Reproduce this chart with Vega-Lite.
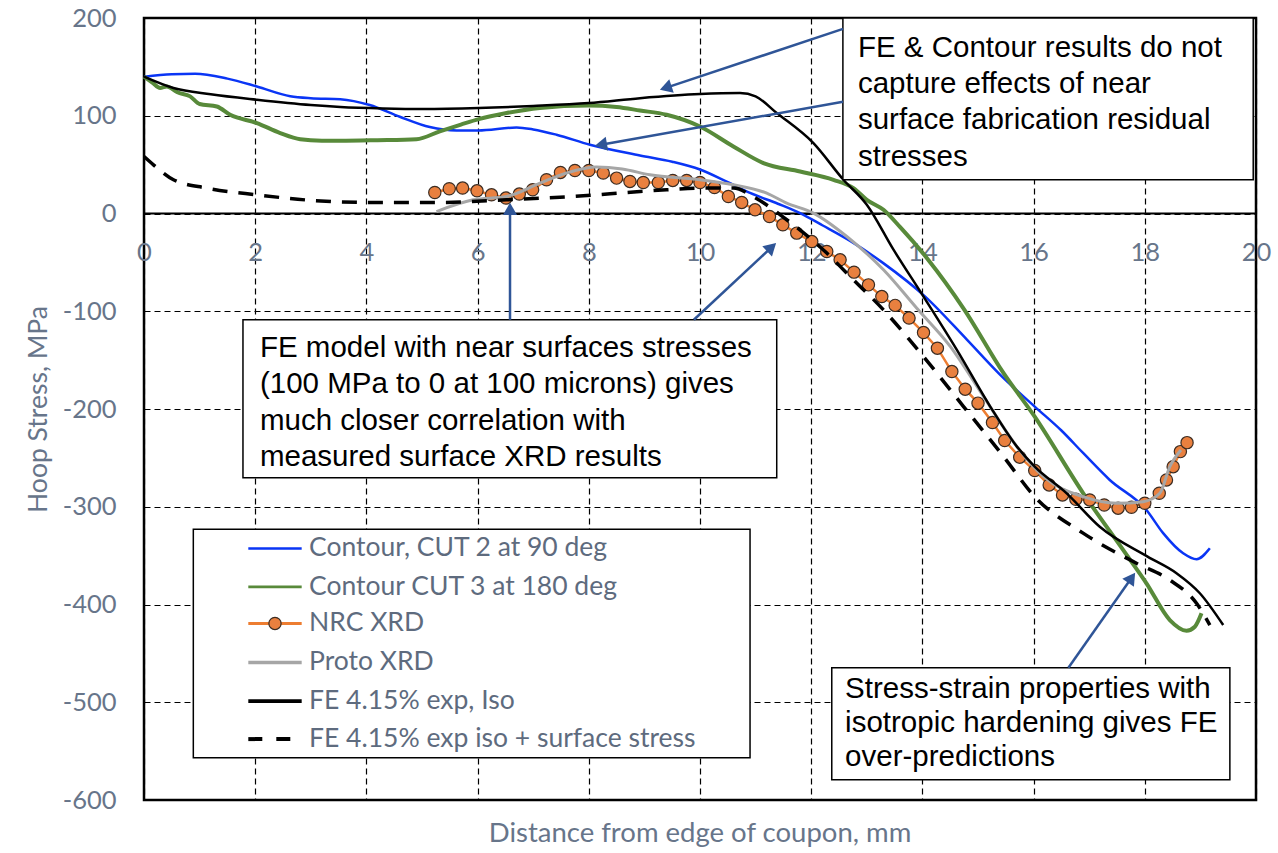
{
  "$schema": "https://vega.github.io/schema/vega-lite/v6.json",
  "width": 1112,
  "height": 782,
  "autosize": "none",
  "padding": {"left": 144, "top": 18, "right": 22, "bottom": 53},
  "background": "white",
  "config": {"view": {"stroke": "black", "strokeWidth": 2.5}, "font": "Lato"},
  "title": {
    "text": "Distance from edge of coupon, mm",
    "orient": "bottom",
    "anchor": "middle",
    "font": "Lato",
    "fontSize": 27.5,
    "fontWeight": "normal",
    "color": "#67758a",
    "offset": 6
  },
  "datasets": {
    "curves": [
      {"s": "c2", "x": 0, "y": 140}, {"s": "c2", "x": 0.5, "y": 142.5}, {"s": "c2", "x": 0.92, "y": 143}, {"s": "c2", "x": 1.5, "y": 138},
      {"s": "c2", "x": 2.03, "y": 130}, {"s": "c2", "x": 2.63, "y": 120}, {"s": "c2", "x": 3.0, "y": 118}, {"s": "c2", "x": 3.53, "y": 117},
      {"s": "c2", "x": 4.06, "y": 111}, {"s": "c2", "x": 4.6, "y": 99}, {"s": "c2", "x": 5.14, "y": 88.4}, {"s": "c2", "x": 5.62, "y": 85},
      {"s": "c2", "x": 6.01, "y": 85}, {"s": "c2", "x": 6.7, "y": 88}, {"s": "c2", "x": 7.0, "y": 86}, {"s": "c2", "x": 7.42, "y": 80.6},
      {"s": "c2", "x": 8.02, "y": 70.3}, {"s": "c2", "x": 8.92, "y": 59.4}, {"s": "c2", "x": 9.5, "y": 53}, {"s": "c2", "x": 10.0, "y": 45},
      {"s": "c2", "x": 10.5, "y": 32}, {"s": "c2", "x": 10.9, "y": 21}, {"s": "c2", "x": 11.4, "y": 10}, {"s": "c2", "x": 11.8, "y": 0.4},
      {"s": "c2", "x": 12.2, "y": -12}, {"s": "c2", "x": 12.7, "y": -28}, {"s": "c2", "x": 13.29, "y": -50.5}, {"s": "c2", "x": 14.05, "y": -85},
      {"s": "c2", "x": 14.8, "y": -129}, {"s": "c2", "x": 15.4, "y": -165}, {"s": "c2", "x": 16.02, "y": -197.5}, {"s": "c2", "x": 16.5, "y": -222},
      {"s": "c2", "x": 16.89, "y": -245}, {"s": "c2", "x": 17.37, "y": -272.6}, {"s": "c2", "x": 18.03, "y": -303.3}, {"s": "c2", "x": 18.33, "y": -327},
      {"s": "c2", "x": 18.69, "y": -347.6}, {"s": "c2", "x": 18.93, "y": -353.7}, {"s": "c2", "x": 19.17, "y": -342.5},

      {"s": "c3", "x": 0, "y": 140}, {"s": "c3", "x": 0.15, "y": 134}, {"s": "c3", "x": 0.29, "y": 128.4}, {"s": "c3", "x": 0.41, "y": 130},
      {"s": "c3", "x": 0.6, "y": 124}, {"s": "c3", "x": 0.83, "y": 119.8}, {"s": "c3", "x": 1.0, "y": 112}, {"s": "c3", "x": 1.31, "y": 109.5},
      {"s": "c3", "x": 1.55, "y": 101}, {"s": "c3", "x": 2.03, "y": 92.5}, {"s": "c3", "x": 2.45, "y": 82.3}, {"s": "c3", "x": 2.81, "y": 76},
      {"s": "c3", "x": 3.2, "y": 74.5}, {"s": "c3", "x": 3.53, "y": 74.4}, {"s": "c3", "x": 4.2, "y": 75}, {"s": "c3", "x": 4.9, "y": 76},
      {"s": "c3", "x": 5.32, "y": 84}, {"s": "c3", "x": 5.7, "y": 91}, {"s": "c3", "x": 6.02, "y": 96.6}, {"s": "c3", "x": 6.52, "y": 102.8},
      {"s": "c3", "x": 7.12, "y": 108}, {"s": "c3", "x": 7.99, "y": 110.5}, {"s": "c3", "x": 8.5, "y": 109}, {"s": "c3", "x": 8.92, "y": 105.4},
      {"s": "c3", "x": 9.4, "y": 101}, {"s": "c3", "x": 10.0, "y": 89}, {"s": "c3", "x": 10.6, "y": 68.6}, {"s": "c3", "x": 11.14, "y": 51.6},
      {"s": "c3", "x": 11.8, "y": 43}, {"s": "c3", "x": 12.4, "y": 34.5}, {"s": "c3", "x": 12.76, "y": 26}, {"s": "c3", "x": 13.0, "y": 14},
      {"s": "c3", "x": 13.3, "y": 3.8}, {"s": "c3", "x": 13.6, "y": -14}, {"s": "c3", "x": 14.1, "y": -47}, {"s": "c3", "x": 14.75, "y": -98},
      {"s": "c3", "x": 15.46, "y": -163.4}, {"s": "c3", "x": 16.02, "y": -207.8}, {"s": "c3", "x": 16.89, "y": -286}, {"s": "c3", "x": 17.61, "y": -344.2},
      {"s": "c3", "x": 18.03, "y": -378.3}, {"s": "c3", "x": 18.45, "y": -415.9}, {"s": "c3", "x": 18.75, "y": -426.8}, {"s": "c3", "x": 18.9, "y": -422.7},
      {"s": "c3", "x": 19.02, "y": -409},

      {"s": "nrc", "x": 5.23, "y": 21.5}, {"s": "nrc", "x": 5.49, "y": 25.3}, {"s": "nrc", "x": 5.73, "y": 26}, {"s": "nrc", "x": 5.99, "y": 23.2},
      {"s": "nrc", "x": 6.25, "y": 19.1}, {"s": "nrc", "x": 6.51, "y": 15.8}, {"s": "nrc", "x": 6.75, "y": 19.9}, {"s": "nrc", "x": 6.99, "y": 24.3},
      {"s": "nrc", "x": 7.24, "y": 34.5}, {"s": "nrc", "x": 7.49, "y": 42}, {"s": "nrc", "x": 7.75, "y": 44}, {"s": "nrc", "x": 8.0, "y": 44},
      {"s": "nrc", "x": 8.26, "y": 41.4}, {"s": "nrc", "x": 8.5, "y": 36.2}, {"s": "nrc", "x": 8.74, "y": 32.8}, {"s": "nrc", "x": 8.98, "y": 31.7},
      {"s": "nrc", "x": 9.25, "y": 31.7}, {"s": "nrc", "x": 9.51, "y": 33.8}, {"s": "nrc", "x": 9.76, "y": 33.8}, {"s": "nrc", "x": 10.0, "y": 31.7},
      {"s": "nrc", "x": 10.26, "y": 26.6}, {"s": "nrc", "x": 10.51, "y": 17.4}, {"s": "nrc", "x": 10.75, "y": 11.3}, {"s": "nrc", "x": 10.99, "y": 3.8},
      {"s": "nrc", "x": 11.25, "y": -3.1}, {"s": "nrc", "x": 11.49, "y": -11.6}, {"s": "nrc", "x": 11.74, "y": -20.1}, {"s": "nrc", "x": 12.01, "y": -28.7},
      {"s": "nrc", "x": 12.28, "y": -38.9}, {"s": "nrc", "x": 12.52, "y": -47.4}, {"s": "nrc", "x": 12.77, "y": -60}, {"s": "nrc", "x": 13.03, "y": -73},
      {"s": "nrc", "x": 13.27, "y": -85}, {"s": "nrc", "x": 13.51, "y": -94}, {"s": "nrc", "x": 13.76, "y": -107}, {"s": "nrc", "x": 14.02, "y": -121.8},
      {"s": "nrc", "x": 14.27, "y": -137.8}, {"s": "nrc", "x": 14.53, "y": -161.7}, {"s": "nrc", "x": 14.77, "y": -179.7}, {"s": "nrc", "x": 15.0, "y": -194},
      {"s": "nrc", "x": 15.26, "y": -213.9}, {"s": "nrc", "x": 15.48, "y": -232.3}, {"s": "nrc", "x": 15.75, "y": -249.3}, {"s": "nrc", "x": 16.02, "y": -263},
      {"s": "nrc", "x": 16.28, "y": -277.7}, {"s": "nrc", "x": 16.52, "y": -287.9}, {"s": "nrc", "x": 16.76, "y": -292.3}, {"s": "nrc", "x": 17.01, "y": -293},
      {"s": "nrc", "x": 17.27, "y": -298.2}, {"s": "nrc", "x": 17.52, "y": -301.5}, {"s": "nrc", "x": 17.76, "y": -300.5}, {"s": "nrc", "x": 18.0, "y": -296.4},
      {"s": "nrc", "x": 18.26, "y": -286.2}, {"s": "nrc", "x": 18.39, "y": -272.6}, {"s": "nrc", "x": 18.51, "y": -259}, {"s": "nrc", "x": 18.64, "y": -243.6},
      {"s": "nrc", "x": 18.76, "y": -234.4},

      {"s": "proto", "x": 5.26, "y": 2}, {"s": "proto", "x": 5.92, "y": 14}, {"s": "proto", "x": 6.52, "y": 17.4}, {"s": "proto", "x": 7.12, "y": 31},
      {"s": "proto", "x": 7.6, "y": 41.4}, {"s": "proto", "x": 8.14, "y": 47.5}, {"s": "proto", "x": 8.6, "y": 45.5}, {"s": "proto", "x": 9.1, "y": 39.6},
      {"s": "proto", "x": 10.0, "y": 34.5}, {"s": "proto", "x": 10.6, "y": 29.4}, {"s": "proto", "x": 11.2, "y": 20.9}, {"s": "proto", "x": 11.56, "y": 10.6},
      {"s": "proto", "x": 12.04, "y": 0.4}, {"s": "proto", "x": 12.64, "y": -23.5}, {"s": "proto", "x": 13.3, "y": -57.6}, {"s": "proto", "x": 13.9, "y": -97},
      {"s": "proto", "x": 14.5, "y": -136}, {"s": "proto", "x": 15.1, "y": -187.3}, {"s": "proto", "x": 15.7, "y": -238.5}, {"s": "proto", "x": 16.18, "y": -269.2},
      {"s": "proto", "x": 16.89, "y": -289.7}, {"s": "proto", "x": 17.49, "y": -296.4}, {"s": "proto", "x": 17.97, "y": -294.8}, {"s": "proto", "x": 18.27, "y": -286.2},
      {"s": "proto", "x": 18.45, "y": -259}, {"s": "proto", "x": 18.65, "y": -241.9},

      {"s": "fe", "x": 0, "y": 140}, {"s": "fe", "x": 0.53, "y": 128.4}, {"s": "fe", "x": 1.2, "y": 122}, {"s": "fe", "x": 2.03, "y": 116.4},
      {"s": "fe", "x": 3.0, "y": 111}, {"s": "fe", "x": 3.53, "y": 109}, {"s": "fe", "x": 4.3, "y": 107.5}, {"s": "fe", "x": 5.02, "y": 106.9},
      {"s": "fe", "x": 6.02, "y": 107.9}, {"s": "fe", "x": 7.0, "y": 110}, {"s": "fe", "x": 8.0, "y": 113}, {"s": "fe", "x": 8.92, "y": 118},
      {"s": "fe", "x": 10.0, "y": 122.2}, {"s": "fe", "x": 10.72, "y": 123.2}, {"s": "fe", "x": 11.0, "y": 119.8}, {"s": "fe", "x": 11.38, "y": 102.8},
      {"s": "fe", "x": 12.04, "y": 72}, {"s": "fe", "x": 12.58, "y": 34.5}, {"s": "fe", "x": 13.0, "y": 9}, {"s": "fe", "x": 13.48, "y": -37},
      {"s": "fe", "x": 14.02, "y": -85}, {"s": "fe", "x": 14.62, "y": -139.5}, {"s": "fe", "x": 15.22, "y": -197.5}, {"s": "fe", "x": 15.7, "y": -238.5},
      {"s": "fe", "x": 16.02, "y": -259}, {"s": "fe", "x": 16.59, "y": -286}, {"s": "fe", "x": 17.19, "y": -320.4}, {"s": "fe", "x": 18.05, "y": -351},
      {"s": "fe", "x": 18.57, "y": -368}, {"s": "fe", "x": 18.99, "y": -388.5}, {"s": "fe", "x": 19.41, "y": -421},

      {"s": "fes", "x": 0, "y": 58.3}, {"s": "fes", "x": 0.17, "y": 49.8}, {"s": "fes", "x": 0.53, "y": 34.5}, {"s": "fes", "x": 1.13, "y": 26},
      {"s": "fes", "x": 2.03, "y": 19.1}, {"s": "fes", "x": 3.05, "y": 13.3}, {"s": "fes", "x": 4.12, "y": 11.3}, {"s": "fes", "x": 5.32, "y": 11.3},
      {"s": "fes", "x": 6.52, "y": 14}, {"s": "fes", "x": 7.72, "y": 17.4}, {"s": "fes", "x": 8.92, "y": 22.5}, {"s": "fes", "x": 9.4, "y": 24.3},
      {"s": "fes", "x": 10.0, "y": 26}, {"s": "fes", "x": 10.6, "y": 26}, {"s": "fes", "x": 11.0, "y": 15.8}, {"s": "fes", "x": 11.56, "y": -6.4},
      {"s": "fes", "x": 12.28, "y": -40.5}, {"s": "fes", "x": 12.7, "y": -64.5}, {"s": "fes", "x": 13.3, "y": -98.6}, {"s": "fes", "x": 14.02, "y": -146.4},
      {"s": "fes", "x": 14.74, "y": -197.5}, {"s": "fes", "x": 15.46, "y": -248.7}, {"s": "fes", "x": 16.02, "y": -289.7}, {"s": "fes", "x": 16.89, "y": -327},
      {"s": "fes", "x": 17.85, "y": -357.8}, {"s": "fes", "x": 18.45, "y": -375}, {"s": "fes", "x": 18.93, "y": -398.8}, {"s": "fes", "x": 19.17, "y": -421}
    ],
    "boxes": [
      {"x": 12.57, "xe": 19.95, "y": 200, "ye": 34.5},
      {"x": 1.78, "xe": 11.38, "y": -108.7, "ye": -270.4},
      {"x": 12.37, "xe": 19.53, "y": -464.8, "ye": -579.3},
      {"x": 0.887, "xe": 10.9, "y": -322.9, "ye": -556.8}
    ],
    "notes": [
      {"x": 12.84, "y": 160.3, "text": "FE & Contour results do not"},
      {"x": 12.84, "y": 123.2, "text": "capture effects of near"},
      {"x": 12.84, "y": 86.1, "text": "surface fabrication residual"},
      {"x": 12.84, "y": 49.1, "text": "stresses"},
      {"x": 2.086, "y": -146.6, "text": "FE model with near surfaces stresses"},
      {"x": 2.086, "y": -183.9, "text": "(100 MPa to 0 at 100 microns) gives"},
      {"x": 2.086, "y": -221.2, "text": "much closer correlation with"},
      {"x": 2.086, "y": -258.6, "text": "measured surface XRD results"},
      {"x": 12.61, "y": -495.4, "text": "Stress-strain properties with"},
      {"x": 12.61, "y": -530.2, "text": "isotropic hardening gives FE"},
      {"x": 12.61, "y": -565, "text": "over-predictions"}
    ],
    "legend": [
      {"s": "c2", "label": "Contour, CUT 2 at 90 deg", "y": -342.7},
      {"s": "c3", "label": "Contour CUT 3 at 180 deg", "y": -381.9},
      {"s": "nrc", "label": "NRC XRD", "y": -419.4},
      {"s": "proto", "label": "Proto XRD", "y": -459.3},
      {"s": "fe", "label": "FE 4.15% exp, Iso", "y": -498.8},
      {"s": "fes", "label": "FE 4.15% exp iso + surface stress", "y": -537.7}
    ],
    "arrows": [
      {"id": "a1", "x": 12.572, "y": 188.9, "xe": 9.383, "ye": 128.5},
      {"id": "a2", "x": 12.572, "y": 114.3, "xe": 8.218, "ye": 70.3},
      {"id": "a3", "x": 6.583, "y": -108.7, "xe": 6.583, "ye": 4.8},
      {"id": "a4", "x": 9.89, "y": -108.7, "xe": 11.288, "ye": -34.5},
      {"id": "a5", "x": 16.626, "y": -464.8, "xe": 17.763, "ye": -372.6}
    ]
  },
  "layer": [
    {
      "data": {"values": [{"y": 0}]},
      "mark": {"type": "rule", "color": "black", "strokeWidth": 2.2},
      "encoding": {
        "y": {
          "field": "y", "type": "quantitative",
          "scale": {"domain": [-600, 200], "nice": false, "zero": false},
          "axis": {
            "values": [-600, -500, -400, -300, -200, -100, 0, 100, 200],
            "labelExpr": "replace(datum.label, '\u2212', '-')",
            "grid": true, "gridColor": "black", "gridDash": [6, 4], "gridWidth": 1.2, "gridOpacity": 1,
            "domain": false, "ticks": false,
            "labelFont": "Lato", "labelFontSize": 25.5, "labelColor": "#67758a", "labelPadding": 28, "labelOverlap": false,
            "title": "Hoop Stress, MPa", "titleFont": "Lato", "titleFontSize": 26.5, "titleFontWeight": "normal",
            "titleColor": "#67758a", "titlePadding": 10
          }
        }
      }
    },
    {
      "data": {"name": "curves"},
      "transform": [{"filter": "datum.s === 'c2'"}],
      "mark": {"type": "line", "color": "#0a35f5", "strokeWidth": 2.5, "interpolate": "monotone"},
      "encoding": {
        "x": {
          "field": "x", "type": "quantitative",
          "scale": {"domain": [0, 20], "nice": false, "zero": false},
          "axis": {
            "values": [0, 2, 4, 6, 8, 10, 12, 14, 16, 18, 20],
            "grid": true, "gridColor": "black", "gridDash": [6, 4], "gridWidth": 1.2, "gridOpacity": 1,
            "domain": false, "ticks": false, "offset": -586.5,
            "labelFont": "Lato", "labelFontSize": 25.5, "labelColor": "#67758a", "labelPadding": 27,
            "labelFlush": false, "labelOverlap": false, "title": null
          }
        },
        "y": {"field": "y", "type": "quantitative"}
      }
    },
    {
      "data": {"name": "curves"},
      "transform": [{"filter": "datum.s === 'c3'"}],
      "mark": {"type": "line", "color": "#588a3a", "strokeWidth": 4, "interpolate": "monotone"},
      "encoding": {
        "x": {"field": "x", "type": "quantitative"},
        "y": {"field": "y", "type": "quantitative"}
      }
    },
    {
      "data": {"name": "curves"},
      "transform": [{"filter": "datum.s === 'nrc'"}],
      "mark": {"type": "line", "color": "#ed7d31", "strokeWidth": 2.5},
      "encoding": {
        "x": {"field": "x", "type": "quantitative"},
        "y": {"field": "y", "type": "quantitative"}
      }
    },
    {
      "data": {"name": "curves"},
      "transform": [{"filter": "datum.s === 'nrc'"}],
      "mark": {"type": "point", "shape": "circle", "filled": true, "size": 150, "fill": "#e9803f", "stroke": "#3b2c22", "strokeWidth": 1.2, "opacity": 1},
      "encoding": {
        "x": {"field": "x", "type": "quantitative"},
        "y": {"field": "y", "type": "quantitative"}
      }
    },
    {
      "data": {"name": "curves"},
      "transform": [{"filter": "datum.s === 'proto'"}],
      "mark": {"type": "line", "color": "#a6a6a6", "strokeWidth": 3, "interpolate": "monotone"},
      "encoding": {
        "x": {"field": "x", "type": "quantitative"},
        "y": {"field": "y", "type": "quantitative"}
      }
    },
    {
      "data": {"name": "curves"},
      "transform": [{"filter": "datum.s === 'fe'"}],
      "mark": {"type": "line", "color": "black", "strokeWidth": 2.5, "interpolate": "monotone"},
      "encoding": {
        "x": {"field": "x", "type": "quantitative"},
        "y": {"field": "y", "type": "quantitative"}
      }
    },
    {
      "data": {"name": "curves"},
      "transform": [{"filter": "datum.s === 'fes'"}],
      "mark": {"type": "line", "color": "black", "strokeWidth": 3.5, "strokeDash": [15, 11], "interpolate": "monotone"},
      "encoding": {
        "x": {"field": "x", "type": "quantitative"},
        "y": {"field": "y", "type": "quantitative"}
      }
    },
    {
      "data": {"name": "boxes"},
      "mark": {"type": "rect", "fill": "white", "stroke": "black", "strokeWidth": 1.5},
      "encoding": {
        "x": {"field": "x", "type": "quantitative"},
        "x2": {"field": "xe"},
        "y": {"field": "y", "type": "quantitative"},
        "y2": {"field": "ye"}
      }
    },
    {
      "data": {"name": "notes"},
      "mark": {"type": "text", "font": "Liberation Sans", "fontSize": 29.5, "align": "left", "baseline": "alphabetic", "color": "black"},
      "encoding": {
        "x": {"field": "x", "type": "quantitative"},
        "y": {"field": "y", "type": "quantitative"},
        "text": {"field": "text"}
      }
    },
    {
      "data": {"name": "legend"},
      "mark": {"type": "rule"},
      "encoding": {
        "x": {"datum": 1.876, "type": "quantitative"},
        "x2": {"datum": 2.836},
        "y": {"field": "y", "type": "quantitative"},
        "color": {
          "field": "s", "type": "nominal", "legend": null,
          "scale": {"domain": ["c2", "c3", "nrc", "proto", "fe", "fes"], "range": ["#0a35f5", "#588a3a", "#ed7d31", "#a6a6a6", "black", "black"]}
        },
        "strokeWidth": {
          "field": "s", "type": "nominal", "legend": null,
          "scale": {"domain": ["c2", "c3", "nrc", "proto", "fe", "fes"], "range": [2.5, 4, 2.5, 3, 2.5, 4]}
        },
        "strokeDash": {
          "field": "s", "type": "nominal", "legend": null,
          "scale": {"domain": ["c2", "c3", "nrc", "proto", "fe", "fes"], "range": [[1, 0], [1, 0], [1, 0], [1, 0], [1, 0], [14, 14]]}
        }
      }
    },
    {
      "data": {"name": "legend"},
      "transform": [{"filter": "datum.s === 'nrc'"}],
      "mark": {"type": "point", "shape": "circle", "filled": true, "size": 150, "fill": "#e9803f", "stroke": "#3b2c22", "strokeWidth": 1.2, "opacity": 1},
      "encoding": {
        "x": {"datum": 2.356, "type": "quantitative"},
        "y": {"field": "y", "type": "quantitative"}
      }
    },
    {
      "data": {"name": "legend"},
      "mark": {"type": "text", "font": "Lato", "fontSize": 26.5, "align": "left", "baseline": "middle", "color": "#5e6b7e"},
      "encoding": {
        "x": {"datum": 2.968, "type": "quantitative"},
        "y": {"field": "y", "type": "quantitative"},
        "text": {"field": "label"}
      }
    },
    {
      "data": {"name": "arrows"},
      "mark": {"type": "rule", "color": "#2f5597", "strokeWidth": 2.5},
      "encoding": {
        "x": {"field": "x", "type": "quantitative"},
        "x2": {"field": "xe"},
        "y": {"field": "y", "type": "quantitative"},
        "y2": {"field": "ye"}
      }
    },
    {
      "data": {"name": "arrows"},
      "transform": [{"filter": "datum.id === 'a1'"}],
      "mark": {"type": "point", "shape": "triangle-up", "filled": true, "size": 200, "color": "#2f5597", "opacity": 1, "angle": 251.6},
      "encoding": {
        "x": {"field": "xe", "type": "quantitative"},
        "y": {"field": "ye", "type": "quantitative"}
      }
    },
    {
      "data": {"name": "arrows"},
      "transform": [{"filter": "datum.id === 'a2'"}],
      "mark": {"type": "point", "shape": "triangle-up", "filled": true, "size": 200, "color": "#2f5597", "opacity": 1, "angle": 259.9},
      "encoding": {
        "x": {"field": "xe", "type": "quantitative"},
        "y": {"field": "ye", "type": "quantitative"}
      }
    },
    {
      "data": {"name": "arrows"},
      "transform": [{"filter": "datum.id === 'a3'"}],
      "mark": {"type": "point", "shape": "triangle-up", "filled": true, "size": 200, "color": "#2f5597", "opacity": 1, "angle": 0},
      "encoding": {
        "x": {"field": "xe", "type": "quantitative"},
        "y": {"field": "ye", "type": "quantitative"}
      }
    },
    {
      "data": {"name": "arrows"},
      "transform": [{"filter": "datum.id === 'a4'"}],
      "mark": {"type": "point", "shape": "triangle-up", "filled": true, "size": 200, "color": "#2f5597", "opacity": 1, "angle": 47},
      "encoding": {
        "x": {"field": "xe", "type": "quantitative"},
        "y": {"field": "ye", "type": "quantitative"}
      }
    },
    {
      "data": {"name": "arrows"},
      "transform": [{"filter": "datum.id === 'a5'"}],
      "mark": {"type": "point", "shape": "triangle-up", "filled": true, "size": 200, "color": "#2f5597", "opacity": 1, "angle": 35},
      "encoding": {
        "x": {"field": "xe", "type": "quantitative"},
        "y": {"field": "ye", "type": "quantitative"}
      }
    }
  ]
}
